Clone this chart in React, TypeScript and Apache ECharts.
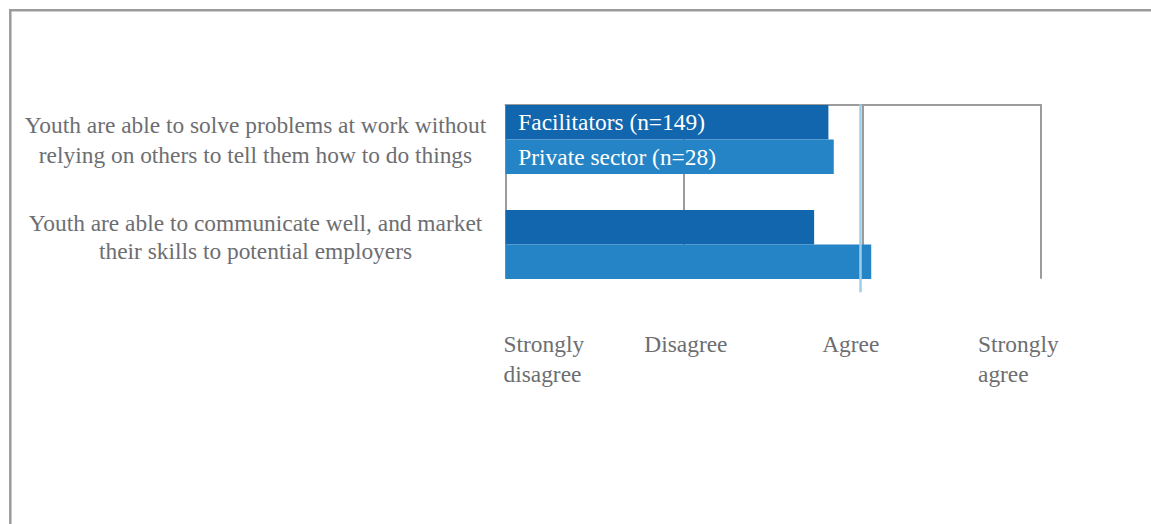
import React, { useEffect, useRef } from 'react';
import * as echarts from 'echarts';

// ---- data ----
const statements = [
  'Youth are able to solve problems at work without\nrelying on others to tell them how to do things',
  'Youth are able to communicate well, and market\ntheir skills to potential employers',
];
const seriesNames = ['Facilitators (n=149)', 'Private sector (n=28)'];
const facilitators = [2.81, 2.73];
const privateSector = [2.84, 3.05];
const scaleValues = [1, 2, 3, 4];
const scaleLabels = ['Strongly\ndisagree', 'Disagree', 'Agree', 'Strongly\nagree'];
const agreeLine = 2.99;

// ---- styles ----
const FONT = '"Liberation Serif", "Times New Roman", serif';
const FS = 23.4;
const TEXT = '#6d6e71';
const GRAY = '#9b9b9b';
const DARK = '#1166ae';
const MID = '#2584c5';
const LIGHT = '#9ccfea';

export default function App() {
  const ref = useRef<HTMLDivElement>(null);

  useEffect(() => {
    if (!ref.current) return;
    const chart = echarts.init(ref.current, undefined, { renderer: 'svg' });

    const hiddenX = {
      type: 'value' as const,
      min: scaleValues[0],
      max: scaleValues[scaleValues.length - 1],
      interval: 1,
      axisLine: { show: false },
      axisTick: { show: false },
      axisLabel: { show: false },
      splitLine: { show: false },
    };

    const barLabel = {
      show: true,
      position: 'insideLeft' as const,
      distance: 12.8,
      color: '#ffffff',
      fontFamily: FONT,
      fontSize: FS,
      formatter: (p: any) => (p.dataIndex === 0 ? p.seriesName : ''),
    };

    const gridBase = { left: 505.5, right: 110.3, containLabel: false, outerBoundsMode: 'none' };

    chart.setOption({
      animation: false,
      backgroundColor: '#ffffff',
      grid: [
        { ...gridBase, top: 87, height: 210 },
        { ...gridBase, top: 104.3, height: 174.5 },
        { ...gridBase, top: 104.3, height: 188 },
      ],
      xAxis: [
        { ...hiddenX, gridIndex: 0 },
        {
          ...hiddenX,
          gridIndex: 1,
          position: 'top',
          axisLine: { show: true, onZero: false, lineStyle: { color: GRAY, width: 2 } },
          splitLine: { show: true, lineStyle: { color: GRAY, width: 2 } },
        },
        { ...hiddenX, gridIndex: 2 },
      ],
      yAxis: [
        {
          gridIndex: 0,
          type: 'category',
          inverse: true,
          data: statements,
          axisLine: { show: false },
          axisTick: { show: false },
          splitLine: { show: false },
          axisLabel: {
            margin: 250,
            align: 'center',
            fontFamily: FONT,
            fontSize: FS,
            lineHeight: 30,
            color: TEXT,
            formatter: (v: string, i: number) =>
              i === 1
                ? v
                    .split('\n')
                    .map((l) => `{q|${l}}`)
                    .join('\n') + '\n{s| }'
                : v,
            rich: {
              q: { fontFamily: FONT, fontSize: FS, lineHeight: 28, color: TEXT },
              s: { fontFamily: FONT, fontSize: 4, lineHeight: 16, color: TEXT },
            },
          },
        },
        { gridIndex: 1, type: 'value', min: 0, max: 1, show: false },
        { gridIndex: 2, type: 'value', min: 0, max: 1, show: false },
      ],
      series: [
        {
          type: 'bar',
          name: seriesNames[0],
          xAxisIndex: 0,
          yAxisIndex: 0,
          data: facilitators,
          barWidth: 34.5,
          barGap: '0%',
          itemStyle: { color: DARK },
          label: barLabel,
          z: 3,
        },
        {
          type: 'bar',
          name: seriesNames[1],
          xAxisIndex: 0,
          yAxisIndex: 0,
          data: privateSector,
          barWidth: 34.5,
          barGap: '0%',
          itemStyle: { color: MID },
          label: barLabel,
          z: 3,
        },
        {
          type: 'scatter',
          name: 'agree',
          xAxisIndex: 2,
          yAxisIndex: 2,
          data: [],
          silent: true,
          z: 10,
          markLine: {
            silent: true,
            symbol: 'none',
            label: { show: false },
            lineStyle: { color: LIGHT, width: 2.5, type: 'solid' },
            data: [{ xAxis: agreeLine }],
          },
        },
      ],
    });

    const px = (v: number) => chart.convertToPixel({ xAxisIndex: 0 }, v) as number;
    const labelLayout = [
      { align: 'left', dx: -2 },
      { align: 'center', dx: 2 },
      { align: 'center', dx: -11.6 },
      { align: 'left', dx: -62.7 },
    ];

    chart.setOption({
      graphic: [
        {
          type: 'line',
          silent: true,
          shape: { x1: 9, y1: 10.3, x2: 1151, y2: 10.3 },
          style: { stroke: GRAY, lineWidth: 2.5 },
        },
        {
          type: 'line',
          silent: true,
          shape: { x1: 10.3, y1: 9, x2: 10.3, y2: 524 },
          style: { stroke: GRAY, lineWidth: 2.5 },
        },
        ...scaleLabels.map((t, i) => ({
          type: 'text',
          silent: true,
          x: px(scaleValues[i]) + labelLayout[i].dx,
          y: 329,
          style: {
            text: t,
            fill: TEXT,
            font: `${FS}px ${FONT}`,
            align: labelLayout[i].align,
            verticalAlign: 'top',
            lineHeight: 30,
          },
        })),
      ],
    });

    return () => chart.dispose();
  }, []);

  return (
    <div
      ref={ref}
      style={{ position: 'absolute', left: 0, top: 0, width: 1151, height: 524, background: '#fff' }}
    />
  );
}
